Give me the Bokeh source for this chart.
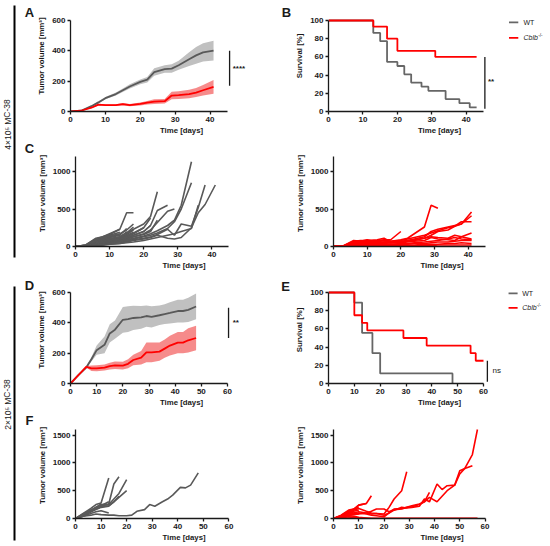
from bokeh.plotting import figure
from bokeh.models import Range1d, FixedTicker
from bokeh.layouts import row, column
from bokeh.core.properties import value
from bokeh.embed import file_html
from bokeh.resources import INLINE

# ---------------- data ----------------
GROUPS = ["WT", "Cblb"]
GROUP_TEXT = ["4×10⁵ MC-38", "2×10⁵ MC-38"]
PANEL_LETTERS = ["A", "B", "C", "D", "E", "F"]

# 4x10^5 cohort (A, B, C)
DAYS_A = [0, 3, 6, 8, 10, 13, 15, 17, 20, 22, 24, 27, 29, 31, 34, 36, 38, 41]
WT_MEAN_A = [0, 5, 35, 60, 88, 115, 140, 165, 195, 210, 260, 280, 283, 305, 345, 370, 390, 402]
WT_SEM_A = [0, 2, 5, 7, 8, 10, 12, 14, 16, 18, 25, 25, 28, 30, 45, 55, 60, 65]
KO_MEAN_A = [0, 5, 25, 45, 42, 42, 48, 42, 50, 58, 65, 68, 105, 108, 115, 125, 140, 162]
KO_SEM_A = [0, 2, 4, 6, 6, 6, 8, 8, 10, 12, 15, 15, 25, 25, 28, 30, 35, 45]

KM_WT_T_B = [0, 13, 15, 17, 20, 22, 24, 27, 29, 34, 38, 41, 43]
KM_WT_S_B = [100, 86.4, 77.3, 54.5, 50, 40.9, 31.8, 27.3, 22.7, 13.6, 9.1, 4.5, 4.5]
KM_KO_T_B = [0, 13, 17, 20, 31, 43]
KM_KO_S_B = [100, 93.3, 80, 66.7, 60, 60]

WT_IND_C = [
    [0, 20, 110, 130, 170, 230],
    [0, 15, 90, 120, 150, 190],
    [0, 10, 70, 100, 130, 160],
    [0, 20, 100, 130, 160, 230, 450, 450],
    [0, 10, 60, 90, 120, 150, 240],
    [0, 15, 80, 110, 140, 170, 220, 300],
    [0, 10, 50, 80, 100, 130, 180, 260],
    [0, 10, 60, 90, 110, 120, 160, 220],
    [0, 5, 40, 60, 80, 110, 140, 190],
    [0, 8, 50, 70, 90, 110, 200],
    [0, 5, 40, 70, 90, 120, 150, 180, 250],
    [0, 5, 30, 60, 80, 100, 130, 170, 250, 380],
    [0, 5, 30, 50, 70, 90, 110, 150, 200, 280],
    [0, 8, 40, 70, 100, 130, 180, 230, 300, 400, 730],
    [0, 5, 20, 40, 60, 80, 100, 130, 160, 200, 350],
    [0, 5, 30, 50, 80, 100, 120, 150, 200, 280, 480, 550],
    [0, 3, 20, 40, 60, 80, 100, 130, 170, 220, 320, 470, 500],
    [0, 3, 20, 30, 50, 70, 90, 110, 140, 170, 210, 280, 350, 550, 1130],
    [0, 3, 15, 30, 45, 60, 80, 100, 130, 150, 180, 240, 330, 500, 850],
    [0, 3, 15, 25, 40, 50, 70, 90, 110, 130, 160, 230, 150, 300, 270, 520, 820],
    [0, 2, 10, 20, 30, 40, 60, 80, 100, 120, 150, 110, 100, 120, 250, 450, 560, 820],
    [0, 2, 10, 20, 30, 40, 50, 60, 80, 100, 120, 150, 170, 200, 240, 550],
]
KO_IND_C = [
    [0, 10, 80, 70, 90, 60],
    [0, 10, 70, 80, 80, 90, 110, 60],
    [0, 5, 50, 60, 70, 80, 90, 90],
    [0, 8, 60, 70, 80, 70, 80, 90, 200],
    [0, 5, 40, 50, 60, 50, 60, 50, 80],
    [0, 5, 50, 60, 70, 60, 80, 70, 90, 110, 170, 260, 550, 510],
    [0, 5, 40, 50, 60, 50, 60, 70, 80, 100, 120, 150, 180, 210, 250, 270, 300, 460],
    [0, 3, 30, 40, 50, 40, 50, 60, 70, 80, 100, 130, 200, 230, 260, 280, 300, 410],
    [0, 3, 30, 40, 40, 50, 50, 60, 60, 80, 90, 110, 150, 200, 220, 270, 330, 330],
    [0, 3, 20, 30, 40, 40, 50, 50, 60, 70, 80, 110, 130, 120, 110, 150, 130, 180],
    [0, 2, 20, 30, 30, 40, 40, 50, 50, 60, 70, 80, 120, 100, 90, 80, 130, 100],
    [0, 2, 10, 20, 20, 30, 30, 30, 40, 40, 50, 60, 70, 80, 100, 120, 100, 90],
    [0, 2, 10, 10, 20, 20, 20, 30, 30, 30, 40, 40, 50, 60, 60, 70, 80, 80],
    [0, 1, 5, 10, 10, 10, 20, 20, 20, 20, 20, 30, 30, 30, 40, 40, 50, 40],
    [0, 1, 5, 5, 5, 10, 10, 10, 10, 10, 10, 10, 10, 20, 20, 20, 20, 20],
]

# 2x10^5 cohort (D, E, F)
DAYS_D_WT = [0, 3, 6, 8, 10, 13, 15, 17, 20, 22, 24, 27, 29, 31, 34, 36, 38, 41, 43, 45, 48]
WT_MEAN_D = [0, 55, 105, 160, 220, 255, 330, 355, 420, 425, 432, 436, 445, 440, 450, 458, 465, 478, 478, 485, 508]
WT_SEM_D = [0, 3, 8, 15, 30, 55, 60, 60, 85, 85, 80, 75, 70, 70, 65, 65, 70, 75, 75, 80, 85]
DAYS_D_KO = [0, 6, 8, 10, 13, 15, 17, 20, 22, 24, 27, 29, 31, 34, 36, 38, 41, 43, 45, 48]
KO_MEAN_D = [0, 110, 100, 100, 105, 115, 120, 118, 130, 155, 170, 205, 205, 210, 230, 250, 270, 270, 285, 300]
KO_SEM_D = [0, 5, 18, 20, 20, 22, 25, 25, 30, 35, 45, 65, 65, 60, 60, 65, 70, 70, 80, 80]

KM_WT_T_E = [0, 10, 13, 17, 20, 48]
KM_WT_S_E = [100, 88.9, 55.6, 33.3, 11.1, 0]
KM_KO_T_E = [0, 10, 13, 15, 29, 38, 55, 57, 60]
KM_KO_S_E = [100, 75, 66.7, 58.3, 50, 41.7, 33.3, 25, 25]

DAYS_F = [0, 3, 6, 8, 10, 13, 15, 17, 20, 22, 24, 27, 29, 31, 34, 36, 38, 41, 43, 45, 48, 50, 52, 55, 57]
WT_IND_F = [
    [0, 60, 130, 200, 260],
    [0, 90, 180, 250, 280, 730],
    [0, 70, 150, 200, 230, 300],
    [0, 40, 90, 120, 140, 100],
    [0, 80, 150, 200, 250, 260, 620, 750],
    [0, 50, 120, 160, 200, 220, 300, 400],
    [0, 60, 120, 180, 230, 250, 350, 450, 700],
    [0, 70, 130, 170, 210, 230, 300, 380, 500],
    [0, 40, 60, 80, 70, 60, 60, 50, 50, 60, 130, 160, 250, 220, 300, 350, 420, 560, 550, 600, 820],
]
KO_IND_F = [
    [0, 60, 150, 170, 200],
    [0, 50, 120, 100, 80],
    [0, 40, 100, 130, 150],
    [0, 50, 130, 170, 240, 270],
    [0, 40, 100, 160, 240, 270, 410],
    [0, 30, 80, 100, 120, 100, 80, 90, 80, 200, 350, 500, 840],
    [0, 30, 60, 70, 80, 100, 130, 170, 170, 120, 160, 170, 200, 210, 250, 300, 470],
    [0, 20, 60, 80, 100, 80, 60, 50, 30, 100, 150, 200, 190, 200, 220, 350, 300, 620, 520, 590, 600, 860, 900, 950],
    [0, 30, 90, 150, 180, 130, 100, 90, 60, 100, 170, 180, 200, 230, 260, 300, 380, 300, 400, 500, 600, 800, 900, 1150, 1600],
    [0, 20, 50, 40, 20, 10, 0, 0, 0, 0, 0, 0, 0, 0, 0, 0, 0, 0, 0, 0, 0, 0, 0, 0, 0],
    [0, 10, 30, 20, 10, 0, 0, 0, 0, 0, 0, 0, 0, 0, 0, 0, 0, 0, 0, 0, 0, 0, 0, 0, 0],
    [0, 5, 10, 5, 0, 0, 0, 0, 0, 0, 0, 0, 0, 0, 0, 0, 0, 0, 0, 0, 0, 0, 0, 0, 0],
]

# ---------------- styling / layout ----------------
FONT = "Liberation Sans"
GRAY = "#595959"
GRAY_KM = "#666666"
GRAY_BAND = "#c0c0c0"
RED = "#ff0000"
RED_BAND = "#f47777"
INK = "#1a1a1a"

STRIP_W, LEFT_W, RIGHT_W = 34, 258, 258
BORDER_L = 36
AXIS_PX = {"L": 157.0, "R": 155.0}
ROW_H = [140, 136, 136, 134]
ROW_TOP = [20, 16, 16, 17]      # space from row top to the top of the y axis
FRAME_H = [91, 90, 91, 89]      # pixel length of the y axis


def make_fig(side, r, xmax, ymax, xticks, yticks, ylabel):
    w = LEFT_W if side == "L" else RIGHT_W
    x_end = xmax * (w - BORDER_L) / AXIS_PX[side]
    y_end = ymax * (ROW_TOP[r] + FRAME_H[r]) / FRAME_H[r]
    p = figure(width=w, height=ROW_H[r], x_range=Range1d(0, x_end), y_range=Range1d(0, y_end),
               output_backend="svg", toolbar_location=None,
               min_border_left=BORDER_L, min_border_right=0, min_border_top=0,
               min_border_bottom=ROW_H[r] - ROW_TOP[r] - FRAME_H[r])
    p.outline_line_color = None
    p.grid.visible = False
    p.background_fill_color = "white"
    p.border_fill_color = "white"
    p.xaxis.bounds = (0, xmax)
    p.yaxis.bounds = (0, ymax)
    p.xaxis.ticker = FixedTicker(ticks=xticks)
    p.yaxis.ticker = FixedTicker(ticks=yticks)
    p.xaxis.axis_label = "Time [days]"
    p.yaxis.axis_label = ylabel
    for ax in p.axis:
        ax.axis_line_width = 1.3
        ax.axis_line_color = INK
        ax.major_tick_line_width = 1.3
        ax.major_tick_line_color = INK
        ax.major_tick_out = 3
        ax.major_tick_in = 0
        ax.minor_tick_out = 0
        ax.minor_tick_in = 0
        ax.major_label_text_font = FONT
        ax.major_label_text_font_size = "8px"
        ax.major_label_text_font_style = "bold"
        ax.major_label_text_color = INK
        ax.major_label_standoff = 2
        ax.axis_label_text_font = FONT
        ax.axis_label_text_font_size = "7.8px"
        ax.axis_label_text_font_style = "bold"
        ax.axis_label_text_color = INK
    p.xaxis.axis_label_standoff = 1
    p.yaxis.axis_label_standoff = 3
    return p


def letter(p, x, y, t):
    p.text(x=[x], y=[y], text=[t], text_font=value(FONT), text_font_size=value("13px"),
           text_font_style="bold", text_color=INK, text_align="center", text_baseline="middle")


def sig(p, x, y0, y1, t, tx, ty, bold=True):
    p.segment(x0=[x], y0=[y0], x1=[x], y1=[y1], line_color=INK, line_width=1.3)
    p.text(x=[tx], y=[ty], text=[t], text_font=value(FONT), text_font_size=value("8px"),
           text_font_style="bold" if bold else "normal", text_color=INK,
           text_align="left", text_baseline="middle")


def legend(p, x0, x1, tx, ys, sup_dx):
    for (yy, col) in zip(ys, [GRAY_KM, RED]):
        p.segment(x0=[x0], y0=[yy], x1=[x1], y1=[yy], line_color=col, line_width=1.8)
    p.text(x=[tx], y=[ys[0]], text=[GROUPS[0]], text_font=value(FONT), text_font_size=value("7px"),
           text_color=INK, text_align="left", text_baseline="middle")
    p.text(x=[tx], y=[ys[1]], text=[GROUPS[1]], text_font=value(FONT), text_font_size=value("7px"),
           text_font_style="italic", text_color=INK, text_align="left", text_baseline="middle")
    p.text(x=[tx + sup_dx], y=[ys[1]], text=["-/-"], text_font=value(FONT), text_font_size=value("4.5px"),
           text_color=INK, text_align="left", text_baseline="bottom")


def mean_panel(p, dw, mw, sw, dk, mk, sk):
    p.varea(x=dw, y1=[m - s for m, s in zip(mw, sw)], y2=[m + s for m, s in zip(mw, sw)],
            fill_color=GRAY_BAND, fill_alpha=1.0)
    p.varea(x=dk, y1=[m - s for m, s in zip(mk, sk)], y2=[m + s for m, s in zip(mk, sk)],
            fill_color=RED_BAND, fill_alpha=0.85)
    p.line(dw, mw, line_color=GRAY, line_width=1.8)
    p.line(dk, mk, line_color=RED, line_width=1.8)


def ind_panel(p, days, lines, col):
    p.multi_line(xs=[days[:len(v)] for v in lines], ys=lines, line_color=col, line_width=1.6)


TV = "Tumor volume [mm³]"
SV = "Survival [%]"
T45 = [0, 10, 20, 30, 40]
T60 = [0, 10, 20, 30, 40, 50, 60]
S100 = [0, 20, 40, 60, 80, 100]

# A (letter B sits in this figure's right margin area)
pA = make_fig("L", 0, 45, 600, T45, [0, 200, 400, 600], TV)
mean_panel(pA, DAYS_A, WT_MEAN_A, WT_SEM_A, DAYS_A, KO_MEAN_A, KO_SEM_A)
sig(pA, 45.6, 170, 400, "****", 46.5, 283)
letter(pA, 61.9, 652, PANEL_LETTERS[1])

# B
pB = make_fig("R", 0, 45, 100, T45, S100, SV)
pB.step(KM_WT_T_B, KM_WT_S_B, mode="after", line_color=GRAY_KM, line_width=1.8)
pB.step(KM_KO_T_B, KM_KO_S_B, mode="after", line_color=RED, line_width=1.8)
sig(pB, 45.4, 3, 60, "**", 46.3, 33)
legend(pB, 52.4, 55.1, 56.6, [98, 81], 4.3)

# C
pC = make_fig("L", 1, 45, 1200, T45, [0, 500, 1000], TV)
ind_panel(pC, DAYS_A, WT_IND_C, GRAY)
pC2 = make_fig("R", 1, 45, 1200, T45, [0, 500, 1000], TV)
ind_panel(pC2, DAYS_A, KO_IND_C, RED)

# D (letter E sits in this figure's right margin area)
pD = make_fig("L", 2, 60, 600, T60, [0, 200, 400, 600], TV)
mean_panel(pD, DAYS_D_WT, WT_MEAN_D, WT_SEM_D, DAYS_D_KO, KO_MEAN_D, KO_SEM_D)
sig(pD, 60.4, 300, 500, "**", 62.0, 400)
letter(pD, 82.2, 640, PANEL_LETTERS[4])

# E
pE = make_fig("R", 2, 60, 100, T60, S100, SV)
pE.step(KM_WT_T_E, KM_WT_S_E, mode="after", line_color=GRAY_KM, line_width=1.8)
pE.step(KM_KO_T_E, KM_KO_S_E, mode="after", line_color=RED, line_width=1.8)
sig(pE, 61.5, 2, 25, "ns", 63.5, 14, bold=False)
legend(pE, 69.7, 73.2, 75.0, [99, 83], 5.6)

# F
pF = make_fig("L", 3, 60, 1600, T60, [0, 500, 1000, 1500], TV)
ind_panel(pF, DAYS_F, WT_IND_F, GRAY)
pF2 = make_fig("R", 3, 60, 1600, T60, [0, 500, 1000, 1500], TV)
ind_panel(pF2, DAYS_F, KO_IND_F, RED)

# left strip: cohort brackets, cohort labels and the left-column panel letters
H = sum(ROW_H)
strip = figure(width=STRIP_W, height=H, x_range=Range1d(0, STRIP_W), y_range=Range1d(0, H),
               output_backend="svg", toolbar_location=None, min_border=0,
               x_axis_location=None, y_axis_location=None)
strip.outline_line_color = None
strip.grid.visible = False
strip.segment(x0=[14, 14], y0=[H - 5, H - 286], x1=[14, 14], y1=[H - 257, H - 540],
              line_color="black", line_width=2)
strip.text(x=[7, 7], y=[H - 124, H - 404], text=GROUP_TEXT, angle=1.5708,
           text_font=value(FONT), text_font_size=value("8.5px"), text_color=INK,
           text_align="center", text_baseline="middle")
for t, yy in zip([PANEL_LETTERS[0], PANEL_LETTERS[2], PANEL_LETTERS[3], PANEL_LETTERS[5]],
                 [12, 148, 285, 420]):
    letter(strip, 29, H - yy, t)

grid = column(row(pA, pB), row(pC, pC2), row(pD, pE), row(pF, pF2))
layout = row(strip, grid)

open("out.html", "w").write(file_html(layout, INLINE))
